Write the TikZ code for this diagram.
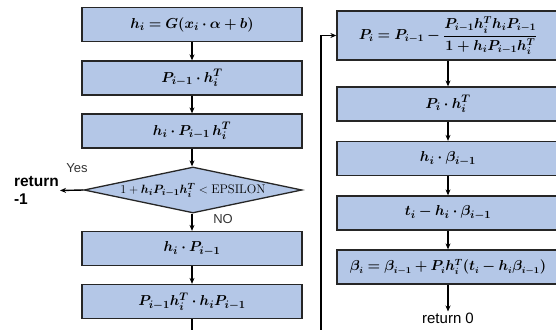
\documentclass[tikz,border=0pt]{standalone}
\usepackage{amsmath}
\usepackage{bm}
\usepackage{fontspec}
\newfontfamily\lsans{Liberation Sans}
\usetikzlibrary{shapes.geometric,arrows.meta}
\definecolor{boxfill}{HTML}{B4C7E7}
\definecolor{bordercol}{HTML}{262626}
\tikzset{
  box/.style={draw=bordercol, fill=boxfill, line width=1.3pt, minimum height=34pt, inner sep=0pt, font=\fontsize{15.5}{18}\selectfont},
  lbox/.style={box, minimum width=220pt},
  rbox/.style={box, minimum width=222pt},
  arr/.style={-{Stealth[length=6pt,width=5pt]}, line width=1.4pt, draw=black},
  plain/.style={line width=1.4pt, draw=black},
  lbl/.style={font=\lsans\fontsize{13}{15}\selectfont, inner sep=0pt, text=black!80},
}
\begin{document}
\begin{tikzpicture}[x=1pt,y=-1pt]
\useasboundingbox (0,0) rectangle (556,329);
% left column
\node[lbox] (L1) at (192,24.5) {$\bm{h_i = G(x_i \cdot \alpha + b)}$};
\node[lbox] (L2) at (192,78) {$\bm{P_{i-1}\cdot h_i^T}$};
\node[lbox] (L3) at (192,131) {$\bm{h_i \cdot P_{i-1}\, h_i^T}$};
\node[diamond, draw=bordercol, fill=boxfill, line width=1.3pt, inner sep=0pt, aspect=4.7,
      minimum width=218pt, minimum height=46pt, font=\fontsize{12.5}{14}\selectfont] (D) at (193,190)
      {$1 + \bm{h_i P_{i-1} h_i^T} < \mathrm{EPSILON}$};
\node[lbox] (L4) at (192,248.5) {$\bm{h_i\cdot P_{i-1}}$};
\node[lbox] (L5) at (192,301.5) {$\bm{P_{i-1} h_i^T \cdot h_i P_{i-1}}$};
\coordinate (Lend) at (192,335);
% right column
\node[rbox, minimum height=49pt, font=\fontsize{14.5}{17}\selectfont] (R1) at (448,35.5)
  {$\bm{P_i = P_{i-1} - \dfrac{P_{i-1}h_i^T h_i P_{i-1}}{1 + h_i P_{i-1} h_i^T}}$};
\node[rbox] (R2) at (448,104) {$\bm{P_i\cdot h_i^T}$};
\node[rbox] (R3) at (448,158.5) {$\bm{h_i\cdot\beta_{i-1}}$};
\node[rbox] (R4) at (448,213) {$\bm{t_i - h_i\cdot\beta_{i-1}}$};
\node[rbox, font=\fontsize{13.5}{16}\selectfont] (R5) at (448,267) {$\bm{\beta_i = \beta_{i-1} + P_i h_i^T (t_i - h_i\beta_{i-1})}$};
\node[font=\lsans\fontsize{15}{17}\selectfont, inner sep=1pt] (R0) at (448,318) {return 0};
% return -1
\node[font=\lsans\bfseries\fontsize{15.5}{18.5}\selectfont, align=left, anchor=east, inner sep=1pt] (Rm) at (60,190.5) {return\\-1};
\node[lbl] (yes) at (77,168) {Yes};
\node[lbl] (no) at (223,219) {NO};
% connectors
\draw[arr] (L1) -- (L2);
\draw[arr] (L2) -- (L3);
\draw[arr] (L3) -- (L3 |- D.north);
\draw[arr] (D.south -| L4) -- (L4);
\draw[arr] (D.west) -- (Rm.east);
\draw[arr] (L4) -- (L5);
\draw[plain] (L5) -- (Lend);
\coordinate (fb0) at (321,335);
\draw[arr] (fb0) |- (R1.west);
\draw[arr] (R1) -- (R2);
\draw[arr] (R2) -- (R3);
\draw[arr] (R3) -- (R4);
\draw[arr] (R4) -- (R5);
\draw[arr] (R5) -- (R0);
\end{tikzpicture}
\end{document}
